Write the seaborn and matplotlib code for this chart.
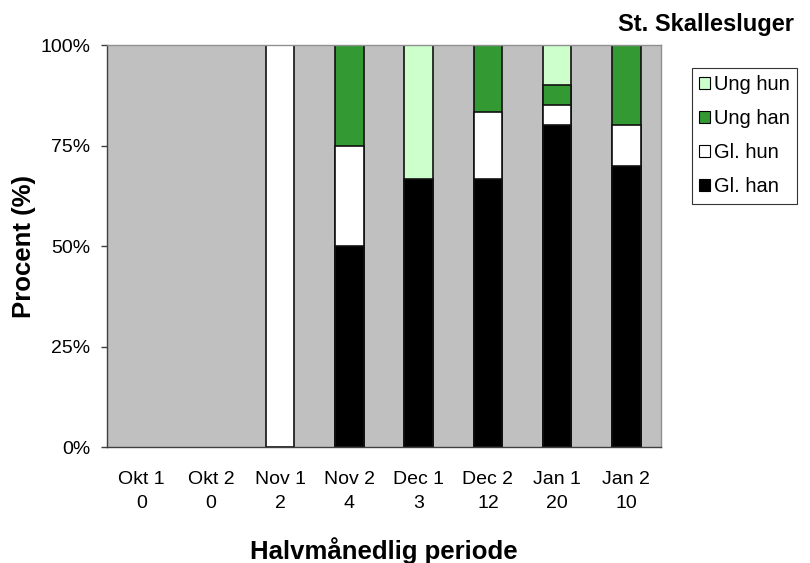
import numpy as np
import pandas as pd
import seaborn as sns
import matplotlib.pyplot as plt
from matplotlib.patches import Patch

# Counts per half-month period
periods = ["Okt 1", "Okt 2", "Nov 1", "Nov 2", "Dec 1", "Dec 2", "Jan 1", "Jan 2"]
gl_han = [0, 0, 0, 2, 2, 8, 16, 7]
gl_hun = [0, 0, 2, 1, 0, 2, 1, 1]
ung_han = [0, 0, 0, 1, 0, 2, 1, 2]
ung_hun = [0, 0, 0, 0, 1, 0, 2, 0]

groups = ["Gl. han", "Gl. hun", "Ung han", "Ung hun"]
colors = {"Gl. han": "#000000", "Gl. hun": "#FFFFFF",
          "Ung han": "#339933", "Ung hun": "#CCFFCC"}

counts = pd.DataFrame({"Gl. han": gl_han, "Gl. hun": gl_hun,
                       "Ung han": ung_han, "Ung hun": ung_hun}, index=periods)
totals = counts.sum(axis=1)
pct = counts.div(totals.replace(0, np.nan), axis=0).fillna(0) * 100
cum = pct.cumsum(axis=1)

sns.set_theme(style="white")
plt.rcParams["font.family"] = ["Liberation Sans", "DejaVu Sans"]
plt.rcParams.update({"text.color": "black", "axes.labelcolor": "black",
                     "xtick.color": "black", "ytick.color": "black"})

fig = plt.figure(figsize=(8.1, 5.63), dpi=100)
ax = fig.add_axes([0.1321, 0.206, 0.684, 0.714])
ax.set_facecolor("#C0C0C0")

# draw from the top segment down, cumulative heights
for g in reversed(groups):
    d = pd.DataFrame({"period": periods, "top": cum[g].values, "seg": pct[g].values})
    d = d[d["seg"] > 0]
    sns.barplot(data=d, x="period", y="top", order=periods, color=colors[g],
                width=0.41, edgecolor="#111111", linewidth=1.2, saturation=1, ax=ax)

ax.set_ylim(0, 100)
ax.set_xlim(-0.5, len(periods) - 0.5)
ax.set_yticks([0, 25, 50, 75, 100])
ax.set_yticklabels(["0%", "25%", "50%", "75%", "100%"], fontsize=14)
ax.set_xticks(range(len(periods)))
ax.set_xticklabels([f"{p}\n{n}" for p, n in zip(periods, totals)], fontsize=14, linespacing=1.55)
ax.set_xticks(np.arange(-0.5, len(periods), 1), minor=True)
ax.tick_params(axis="x", which="major", length=0, pad=17)
ax.tick_params(axis="x", which="minor", length=4, width=1, color="#404040", direction="out")
ax.tick_params(axis="y", length=4, width=1, color="#404040", direction="out", left=True, pad=8)

for s in ["left", "bottom"]:
    ax.spines[s].set_color("#404040")
    ax.spines[s].set_linewidth(1)
for s in ["top", "right"]:
    ax.spines[s].set_color("#909090")
    ax.spines[s].set_linewidth(1)

ax.set_xlabel("Halvmånedlig periode", fontsize=18.5, fontweight="bold", labelpad=18)
ax.set_ylabel("Procent (%)", fontsize=18.5, fontweight="bold", labelpad=3)

fig.text(0.98, 0.945, "St. Skallesluger", ha="right", va="baseline",
         fontsize=17, fontweight="bold")

handles = [Patch(facecolor=colors[g], edgecolor="black", linewidth=0.8, label=g)
           for g in reversed(groups)]
leg = fig.legend(handles=handles, loc="upper left", bbox_to_anchor=(0.854, 0.879),
                 fontsize=14.5, frameon=True, fancybox=False, edgecolor="black",
                 handlelength=0.55, handleheight=0.55, handletextpad=0.2,
                 labelspacing=0.75, borderpad=0.35, borderaxespad=0)
leg.get_frame().set_linewidth(0.8)

fig.savefig("out.png", dpi=100)
